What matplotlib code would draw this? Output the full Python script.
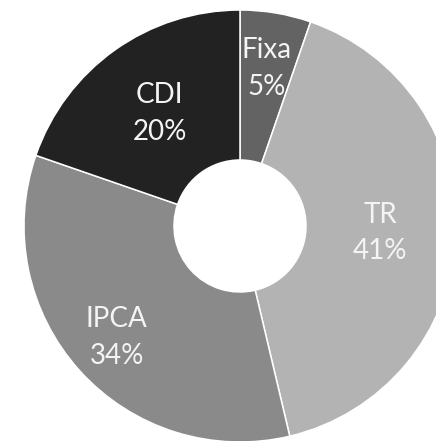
import matplotlib.pyplot as plt
import numpy as np

# dados
labels = ['Fixa', 'TR', 'IPCA', 'CDI']
values = [5.3, 41.0, 34.0, 19.7]
pct_text = ['5%', '41%', '34%', '20%']
colors = ['#636363', '#b3b3b3', '#8a8a8a', '#222222']
label_r = [0.74, 0.65, 0.77, 0.64]

W, H = 436, 441
cx, cy, R = 240, 226, 216

fig = plt.figure(figsize=(W / 100, H / 100), dpi=100)
ax = fig.add_axes([(cx - R) / W, (H - cy - R) / H, 2 * R / W, 2 * R / H])

wedges, _ = ax.pie(values, colors=colors, startangle=90, counterclock=False,
                   radius=1.0, wedgeprops=dict(width=1 - 66 / R, edgecolor='white', linewidth=1.1))
ax.set_xlim(-1, 1)
ax.set_ylim(-1, 1)
ax.set_aspect('auto')
ax.axis('off')

for w, lab, pct, r in zip(wedges, labels, pct_text, label_r):
    ang = np.deg2rad((w.theta1 + w.theta2) / 2)
    ax.text(r * np.cos(ang), r * np.sin(ang), lab + '\n' + pct, ha='center', va='center',
            color='#f4f4f4', fontsize=20, family=['Lato', 'DejaVu Sans'], linespacing=1.5)

plt.savefig('out.png', dpi=100)
plt.close()
